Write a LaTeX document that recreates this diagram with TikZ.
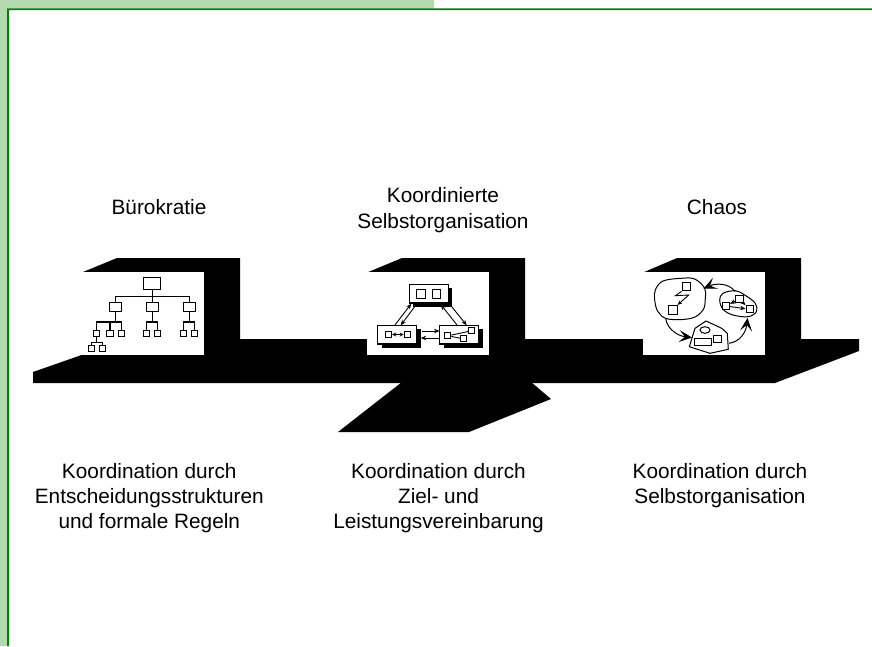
\documentclass[tikz,border=0pt]{standalone}
\usepackage{fontspec}
\setmainfont{Liberation Sans}
\usetikzlibrary{arrows.meta,shapes.geometric}
\definecolor{bandgreen}{HTML}{B4D9B0}
\definecolor{linegreen}{HTML}{008000}
\tikzset{
  lbl/.style={inner sep=0pt,align=center,font=\fontsize{20.8}{25}\selectfont},
  bk/.style={fill=black,draw=none},
  panel/.style={fill=white,draw=none,minimum width=122.5pt,minimum height=83pt,inner sep=0pt},
  obox/.style={draw=black,fill=white,line width=1.1pt,inner sep=0pt},
  orgL/.style={obox,line width=1pt,minimum width=17.5pt,minimum height=12pt},
  orgM/.style={obox,minimum width=12pt,minimum height=9.2pt},
  orgS/.style={obox,minimum width=6.2pt,minimum height=6.2pt},
  team/.style={obox,line width=1.2pt,minimum width=39pt,minimum height=18.7pt},
  tsq/.style={obox,line width=1pt,minimum width=8.6pt,minimum height=8.6pt},
  msq/.style={obox,line width=1pt,minimum width=6pt,minimum height=5.8pt},
  shad/.style={fill=black,draw=none,minimum width=39pt,minimum height=18.7pt,inner sep=0pt},
  org/.style={line width=1.1pt,draw=black},
  arr/.style={line width=.9pt,-{Stealth[length=5.5pt,width=4.5pt]}},
  bigarr/.style={line width=1pt,-{Stealth[length=13pt,width=12pt,inset=6pt]}},
  blob/.style={draw=black,line width=1pt,fill=white},
}
\begin{document}
\begin{tikzpicture}[x=1pt,y=-1pt]
\useasboundingbox (0,0) rectangle (872,646);
% frame
\fill[bandgreen] (0,0) rectangle (434,8.5) (0,0) rectangle (7,646);
\fill[linegreen] (7,8.3) rectangle (872,10) (7,8.3) rectangle (9,646);
% platform and cubes
\fill[bk] (33,372) -- (83,354.5) -- (83,339) -- (859,339) -- (859,351) -- (775,383) -- (33,383) -- cycle;
\fill[bk] (402,382) -- (338,432) -- (469,432) -- (551,399) -- (531,382) -- cycle;
\fill[bk] (82.5,272.2) -- (117,258) -- (240,258) -- (240,345) -- (82.5,345) -- cycle;
\fill[bk] (367.8,272.2) -- (402,258) -- (525,258) -- (525,345) -- (367.8,345) -- cycle;
\fill[bk] (643.8,272.2) -- (677,258) -- (801,258) -- (801,345) -- (643.8,345) -- cycle;
\node[panel] (p1) at (143,313.5) {};
\node[panel] (p2) at (428,313.5) {};
\node[panel] (p3) at (704,313.5) {};
% labels
\node[lbl] (t1) at (159,207) {Bürokratie};
\node[lbl,font=\fontsize{20.8}{26}\selectfont] (t2) at (443,210) {Koordinierte\\Selbstorganisation};
\node[lbl] (t3) at (717,207) {Chaos};
\node[lbl] (b1) at (149.3,498.5) {Koordination durch\\Entscheidungsstrukturen\\und formale Regeln};
\node[lbl] (b2) at (438.5,498.5) {Koordination durch\\Ziel- und\\Leistungsvereinbarung};
\node[lbl] (b3) at (720,486) {Koordination durch\\Selbstorganisation};
% hierarchy
\node[orgL] (a) at (152.2,283) {};
\node[orgM] (a1) at (115.3,306.7) {};
\node[orgM] (a2) at (152.2,306.7) {};
\node[orgM] (a3) at (189.2,306.7) {};
\node[orgS] (a11) at (96.7,333.2) {};
\node[orgS] (a12) at (110,333.2) {};
\node[orgS] (a13) at (121.3,333.2) {};
\node[orgS] (a21) at (146.4,333.2) {};
\node[orgS] (a22) at (157.7,333.2) {};
\node[orgS] (a31) at (183.4,333.2) {};
\node[orgS] (a32) at (194.4,333.2) {};
\node[orgS] (a111) at (91.3,348.2) {};
\node[orgS] (a112) at (102.5,348.2) {};
\coordinate (j0) at (152.2,296.3);
\coordinate (j1) at (115.3,322);
\coordinate (j2) at (152.2,322);
\coordinate (j3) at (189.2,322);
\coordinate (j4) at (96.7,342.7);
\draw[org] (a) -- (j0);
\draw[org] (a1.north) |- (j0) -| (a3.north);
\draw[org] (j0) -- (a2.north);
\draw[org] (a1) -- (j1);
\draw[org] (a11.north) |- (j1) -| (a13.north);
\draw[org] (a12.north) |- (j1);
\draw[org] (a2) -- (j2);
\draw[org] (a21.north) |- (j2) -| (a22.north);
\draw[org] (a3) -- (j3);
\draw[org] (a31.north) |- (j3) -| (a32.north);
\draw[org] (a11) -- (j4);
\draw[org] (a111.north) |- (j4) -| (a112.north);
% teams
\node[shad] (sT) at (432.8,297.7) {};
\node[shad] (sL) at (401.3,338.7) {};
\node[shad] (sR) at (463.2,338.7) {};
\node[team] (T) at (428.8,293.7) {};
\node[team] (L) at (397.3,334.7) {};
\node[team] (R) at (459.2,334.7) {};
\node[tsq] (T1) at (420.8,293.7) {};
\node[tsq] (T2) at (436.3,293.7) {};
\node[msq] (L1) at (388.7,334.5) {};
\node[msq] (L2) at (407.2,334.5) {};
\node[msq] (R1) at (447.8,335.8) {};
\node[msq] (R2) at (471.5,330.8) {};
\node[msq] (R3) at (463.5,338.8) {};
\draw[line width=.9pt] (R1) -- (R2);
\draw[line width=.9pt] (R1) -- (R3);
\draw[line width=1.2pt,{Stealth[length=4pt,width=4pt]}-{Stealth[length=4pt,width=4pt]}] (L1) -- (L2);
\coordinate (ar1) at (394.7,325.3);
\coordinate (ah1) at (411.3,303.7);
\coordinate (ar2) at (416.7,304);
\coordinate (ah2) at (400.7,325.3);
\coordinate (ar3) at (457.3,325.3);
\coordinate (ah3) at (440.7,304.5);
\coordinate (ar4) at (450,304.5);
\coordinate (ah4) at (466.7,325.3);
\coordinate (ar5) at (421.7,331);
\coordinate (ah5) at (439.5,331);
\coordinate (ar6) at (439.5,338);
\coordinate (ah6) at (420.7,338);
\draw[arr] (ar1) -- (ah1);
\draw[arr] (ar2) -- (ah2);
\draw[arr] (ar3) -- (ah3);
\draw[arr] (ar4) -- (ah4);
\draw[arr] (ar5) -- (ah5);
\draw[arr] (ar6) -- (ah6);
% chaos
\draw[blob] plot[smooth cycle,tension=.6] coordinates {(655.3,290) (663,281) (681.3,278.3) (694.7,279) (704.7,288.3) (705.3,298.3) (703,310) (691.3,318.3) (668,319) (658,311.7) (654.7,300)};
\draw[blob] plot[smooth cycle,tension=.6] coordinates {(719.7,300) (723,293.3) (735.3,290.7) (744.7,295) (755.3,303.3) (756.3,311.7) (748,316.7) (733,315) (723,309.3)};
\draw[blob,line join=round] (689.3,346.7) -- (695,328.3) -- (706,321) -- (721.7,328.3) -- (727.3,333.3) -- (728.3,349.3) -- (710,353.3) -- cycle;
\node[tsq] (A1) at (686.5,286.5) {};
\node[tsq] (A2) at (672.8,309.7) {};
\node[msq,minimum width=7.4pt,minimum height=7.2pt] (B1) at (739.3,299) {};
\node[msq,minimum width=7.2pt,minimum height=6.6pt] (B2) at (726,306) {};
\node[msq,minimum width=7.3pt,minimum height=7.3pt] (B3) at (749.7,309.3) {};
\node[obox,line width=1pt,ellipse,minimum width=10pt,minimum height=6.6pt] (C0) at (705,330) {};
\node[obox,line width=1pt,minimum width=16.5pt,minimum height=7.2pt] (C1) at (703,341.7) {};
\node[obox,line width=1pt,minimum width=8pt,minimum height=6.6pt] (C2) at (717,338.7) {};
\draw[line width=.9pt,-{Stealth[length=4.5pt,width=4pt]}] (A1.south west) -- (675.3,295.7) -- (688.7,295) -- (A2.north east);
\draw[arr] (B1) -- (B2);
\draw[arr] (B1) -- (B3);
\draw[arr] (B2) -- (B3);
\coordinate (c1s) at (665.7,318.5);
\coordinate (c1e) at (692,337.5);
\coordinate (c2s) at (729,343.3);
\coordinate (c2e) at (747.5,318);
\coordinate (c3s) at (735,291.5);
\coordinate (c3e) at (703.5,288.5);
\draw[bigarr] (c1s) .. controls (667,329) and (678,336) .. (c1e);
\draw[bigarr] (c2s) .. controls (740,342) and (746,332) .. (c2e);
\draw[bigarr] (c3s) .. controls (729,283) and (716,283) .. (c3e);
\end{tikzpicture}
\end{document}
